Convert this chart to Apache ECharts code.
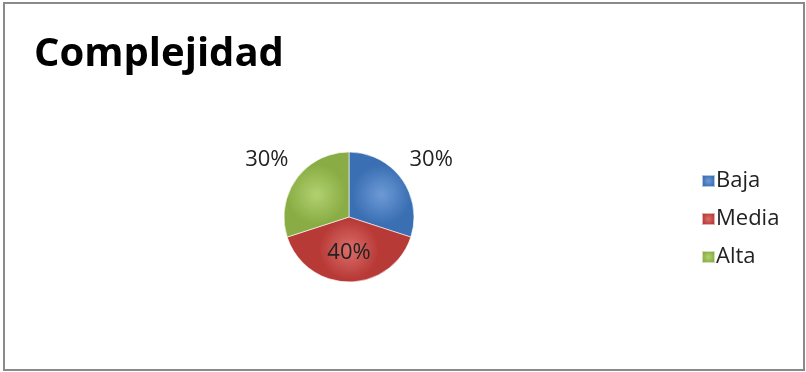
<!DOCTYPE html>
<html>
<head>
<meta charset="utf-8">
<script src="https://cdn.jsdelivr.net/npm/echarts@6/dist/echarts.min.js"></script>
<style>
  html, body { margin: 0; padding: 0; background: #fff; }
  #main { width: 806px; height: 372px; }
</style>
</head>
<body>
<div id="main"></div>
<script>
// datos del grafico
var categorias = ['Baja', 'Media', 'Alta'];
var valores = [30, 40, 30];
var colores = [
  ['#6d9ad6', '#3a6fb3'],
  ['#dc6e6a', '#b83a37'],
  ['#b2d070', '#89ad44']
];

var myChart = echarts.init(document.getElementById('main'));

var datos = [];
for (var i = 0; i < categorias.length; i++) {
  var item = {
    name: categorias[i],
    value: valores[i],
    itemStyle: {
      color: {
        type: 'radial', x: 0.5, y: 0.5, r: 0.5,
        colorStops: [
          { offset: 0, color: colores[i][0] },
          { offset: 0.9, color: colores[i][1] },
          { offset: 1, color: colores[i][1] }
        ]
      }
    }
  };
  // la etiqueta del medio va dentro
  if (categorias[i] === 'Media') {
    item.label = { position: 'inside' };
  }
  datos.push(item);
}

var option = {
  backgroundColor: '#fff',
  animation: false,
  graphic: [{
    type: 'rect',
    shape: { x: 4, y: 3, width: 800, height: 367 },
    style: { fill: 'none', stroke: '#8a8a8a', lineWidth: 2 }
  }],
  title: {
    text: 'Complejidad',
    left: 29,
    top: 30,
    textStyle: {
      fontFamily: 'Open Sans',
      fontWeight: 'bold',
      fontSize: 40,
      color: '#000'
    }
  },
  legend: {
    orient: 'vertical',
    left: 696,
    top: 164,
    itemWidth: 13,
    itemHeight: 12,
    itemGap: 14,
    icon: 'rect',
    data: categorias,
    textStyle: {
      fontFamily: 'Open Sans',
      fontSize: 22,
      lineHeight: 24,
      color: '#222',
      padding: [0, 0, 0, -4]
    }
  },
  series: [{
    type: 'pie',
    center: [349, 217],
    radius: 65,
    startAngle: 90,
    clockwise: true,
    data: datos,
    itemStyle: { borderColor: 'rgba(255,255,255,0.6)', borderWidth: 1 },
    label: {
      show: true,
      position: 'outside',
      formatter: '{c}%',
      fontFamily: 'Open Sans',
      fontSize: 22,
      color: '#222',
      distanceToLabelLine: -18
    },
    labelLine: { show: false, length: 32, length2: 0 },
    emphasis: { disabled: true }
  }]
};

myChart.setOption(option);
</script>
</body>
</html>
